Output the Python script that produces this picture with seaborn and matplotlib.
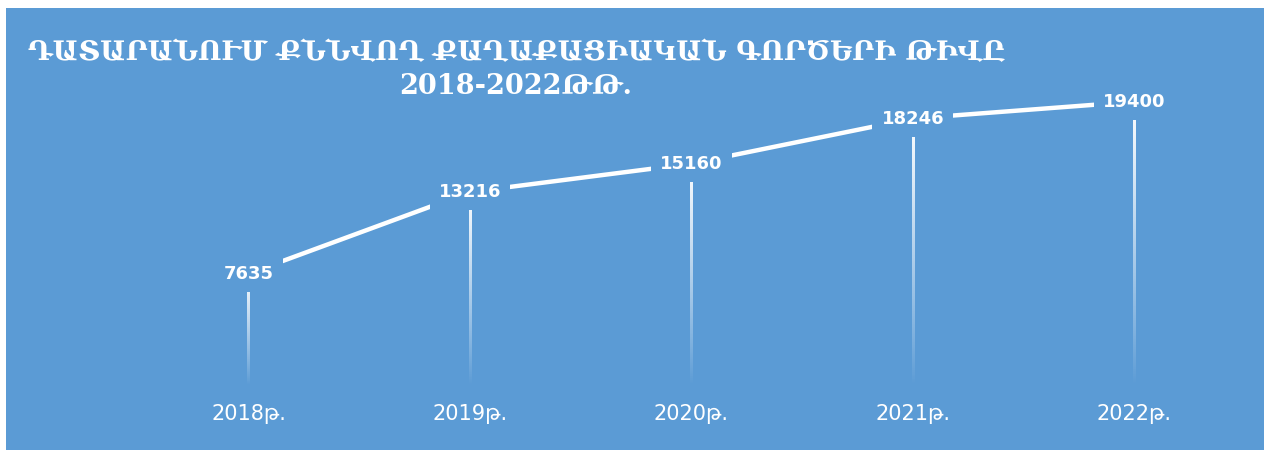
#!/usr/bin/env python3
## Civil cases examined in courts, 2018-2022 (line chart, Excel-like styling)

import numpy as np
import pandas as pd
import seaborn as sns
import matplotlib
matplotlib.use('Agg')
import matplotlib.pyplot as plt
from matplotlib.patches import Rectangle

## data
years  = ['2018թ.', '2019թ.', '2020թ.', '2021թ.', '2022թ.']
cases  = [7635, 13216, 15160, 18246, 19400]
title1 = 'ԴԱՏԱՐԱՆՈՒՄ ՔՆՆՎՈՂ ՔԱՂԱՔԱՑԻԱԿԱՆ ԳՈՐԾԵՐԻ ԹԻՎԸ'
title2 = '2018-2022ԹԹ.'

BLUE  = '#5B9BD5'
WHITE = '#FFFFFF'

df = pd.DataFrame({'year': years, 'cases': cases})

sns.set_theme(style='white')
plt.rcParams['font.family'] = ['DejaVu Sans']

fig = plt.figure(figsize=(12.68, 4.53), dpi=100, facecolor='white')
## blue chart area with thin white margin
fig.patches.append(Rectangle((6/1268, 3/453), 1258/1268, 442/453,
                             transform=fig.transFigure, facecolor=BLUE,
                             edgecolor='none', zorder=-5))

ax = fig.add_axes([0.1088, 0.150, 0.873, 0.806])
ax.set_facecolor('none')
ax.set_zorder(1)

## drop lines: white fading to transparent towards the axis
grad = np.zeros((200, 1, 4))
grad[:, 0, :3] = 1.0
grad[:, 0, 3] = np.linspace(0.0, 1.0, 200) ** 0.9
half_w = 0.0055
for i, v in enumerate(cases):
  ax.imshow(grad, extent=[i - half_w, i + half_w, 0, v], origin='lower',
            aspect='auto', interpolation='bilinear', zorder=1)

sns.lineplot(data=df, x='year', y='cases', color=WHITE, lw=3.2,
             sort=False, ax=ax, zorder=2)

## data labels on blue boxes
for i, v in enumerate(cases):
  ax.text(i, v, str(v), ha='center', va='center', color=WHITE,
          fontsize=13, fontweight='bold', zorder=3,
          bbox=dict(boxstyle='square,pad=0.5', facecolor=BLUE, edgecolor='none'))

ax.set_xlim(-0.5, len(years) - 0.5)
ax.set_ylim(0, 25000)
ax.set_aspect('auto')
ax.set_yticks([])
ax.set_xlabel('')
ax.set_ylabel('')
ax.tick_params(axis='x', length=0, pad=14, labelsize=15, labelcolor=WHITE)
for s in ax.spines.values():
  s.set_visible(False)

## title
fig.text(0.407, 0.885, title1, ha='center', va='center', color=WHITE,
         fontsize=19.5, fontweight='bold', family='DejaVu Serif', zorder=5)
fig.text(0.407, 0.810, title2, ha='center', va='center', color=WHITE,
         fontsize=19.5, fontweight='bold', family='DejaVu Serif', zorder=5)

fig.savefig('out.png', dpi=100, facecolor='white')
